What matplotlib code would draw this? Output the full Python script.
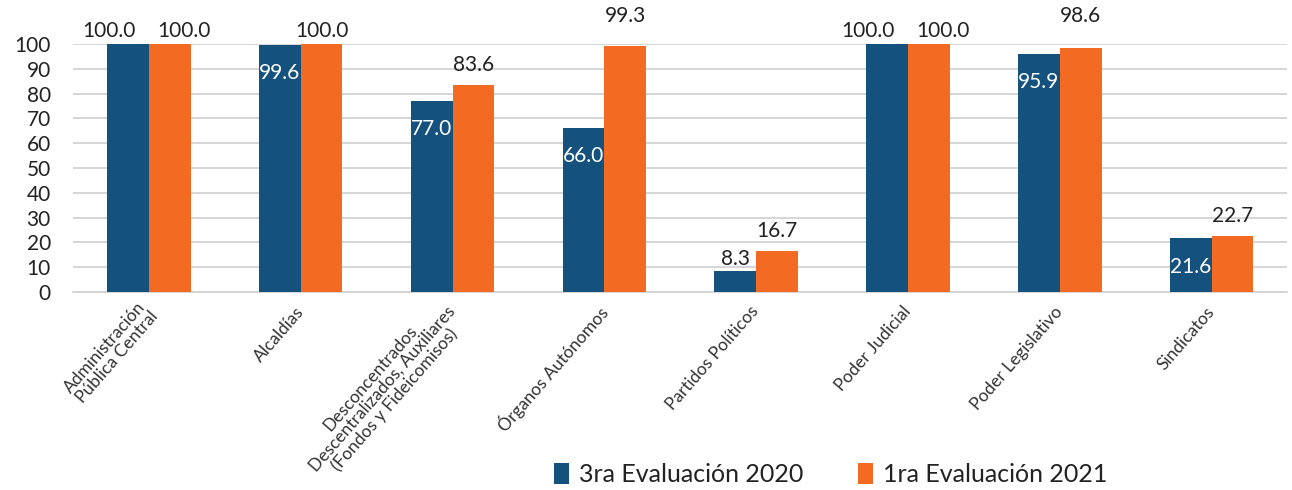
import numpy as np
import matplotlib.pyplot as plt

categorias = ['Administración\nPública Central', 'Alcaldías',
              'Desconcentrados\nDescentralizados, Auxiliares\n(Fondos y Fideicomisos)',
              'Órganos Autónomos', 'Partidos Políticos', 'Poder Judicial',
              'Poder Legislativo', 'Sindicatos']
eval_2020 = [100.0, 99.6, 77.0, 66.0, 8.3, 100.0, 95.9, 21.6]
eval_2021 = [100.0, 100.0, 83.6, 99.3, 16.7, 100.0, 98.6, 22.7]
# blue labels that sit inside the bar top
dentro_2020 = [False, True, True, True, False, False, True, True]

azul = '#14517c'
naranja = '#f36a22'

plt.rcParams['font.family'] = ['Lato', 'DejaVu Sans']

fig = plt.figure(figsize=(12.92, 4.9), dpi=100)
ax = fig.add_axes([0.0565, 0.404, 0.940, 0.506])

x = np.arange(len(categorias))
w = 0.275
b1 = ax.bar(x - w / 2, eval_2020, w, color=azul, label='3ra Evaluación 2020', zorder=3)
b2 = ax.bar(x + w / 2, eval_2021, w, color=naranja, label='1ra Evaluación 2021', zorder=3)

for i, (rect, v, dentro) in enumerate(zip(b1, eval_2020, dentro_2020)):
    cx = rect.get_x() + rect.get_width() / 2
    if dentro:
        ax.annotate(f'{v:.1f}', (cx, v), xytext=(0, -13), textcoords='offset points',
                    ha='center', va='top', color='white', fontsize=15, zorder=4)
    else:
        # push apart when the orange neighbour label is at the same height
        dx = -14 if eval_2021[i] - v < 5 else 0
        ax.annotate(f'{v:.1f}', (cx, v), xytext=(dx, 2), textcoords='offset points',
                    ha='center', va='bottom', color='#222222', fontsize=15, zorder=4)

for i, (rect, v) in enumerate(zip(b2, eval_2021)):
    cx = rect.get_x() + rect.get_width() / 2
    if v >= 99.9:
        dx = 10 if not dentro_2020[i] else 0
        ax.annotate(f'{v:.1f}', (cx, v), xytext=(dx, 2), textcoords='offset points',
                    ha='center', va='bottom', color='#222222', fontsize=15, zorder=4)
    elif v > 95:
        ax.annotate(f'{v:.1f}', (cx, 100), xytext=(0, 13), textcoords='offset points',
                    ha='center', va='bottom', color='#222222', fontsize=15, zorder=4)
    else:
        ax.annotate(f'{v:.1f}', (cx, v), xytext=(0, 7), textcoords='offset points',
                    ha='center', va='bottom', color='#222222', fontsize=15, zorder=4)

ax.set_ylim(0, 100)
ax.set_xlim(-0.5, len(categorias) - 0.5)
ax.set_yticks(range(0, 101, 10))
ax.tick_params(axis='y', length=0, labelsize=15, pad=16, colors='#222222')
ax.set_xticks(x)
ax.set_xticklabels(categorias, rotation=49, ha='right', va='center',
                   rotation_mode='anchor', multialignment='center',
                   fontsize=12.5, color='#333333', linespacing=1.0)
ax.tick_params(axis='x', length=0, pad=12)
ax.grid(axis='y', color='#d0d0d0', linewidth=1.2, zorder=0)
for s in ['top', 'right', 'left']:
    ax.spines[s].set_visible(False)
ax.spines['bottom'].set_color('#d0d0d0')
ax.spines['bottom'].set_linewidth(1.2)

fig.legend(handles=[b1, b2], loc='center', bbox_to_anchor=(0.643, 0.032), ncol=2,
           frameon=False, fontsize=18, handlelength=0.6, handleheight=0.9,
           handletextpad=0.4, columnspacing=2.2, labelcolor='#222222')

fig.savefig('out.png', dpi=100)
